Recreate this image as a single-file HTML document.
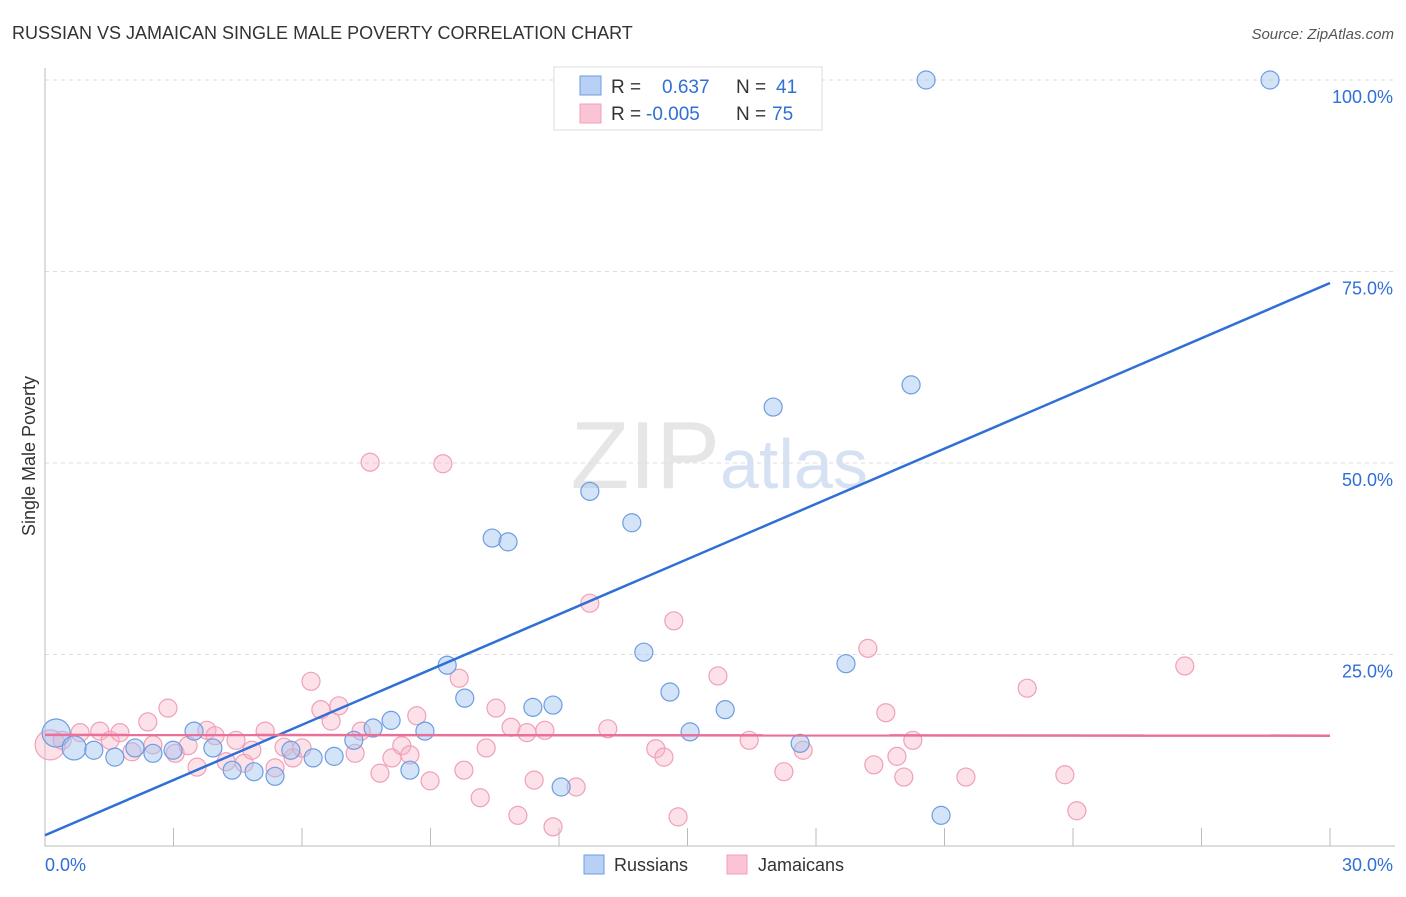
<!DOCTYPE html>
<html><head><meta charset="utf-8"><style>
body{margin:0;background:#fff;font-family:"Liberation Sans",sans-serif}
svg text{font-family:"Liberation Sans",sans-serif}
</style></head><body>
<svg width="1406" height="892" xmlns="http://www.w3.org/2000/svg">
<text x="12" y="39" font-size="18" fill="#333">RUSSIAN VS JAMAICAN SINGLE MALE POVERTY CORRELATION CHART</text>
<text x="1394" y="39" font-size="15" fill="#555" font-style="italic" text-anchor="end">Source: ZipAtlas.com</text>
<text x="35" y="456" font-size="18" fill="#333" text-anchor="middle" transform="rotate(-90 35 456)">Single Male Poverty</text>
<text x="720" y="488" font-size="96" fill="#e6e6e6" text-anchor="end" font-family="Liberation Serif">ZIP</text>
<text x="720" y="488" font-size="70" fill="#d6e2f4">atlas</text>
<g id="grid"></g><g id="pts"></g><g id="lines"></g>
<g>
<rect x="554" y="67" width="268" height="63" fill="#fff" stroke="#ddd"/>
<rect x="580" y="76" width="21" height="19" fill="#b8d0f4" stroke="#6d9de0"/>
<rect x="580" y="104" width="21" height="19" fill="#fac4d4" stroke="#f0a0b8"/>
<text x="611" y="93" font-size="19" fill="#333">R =</text><text x="662" y="93" font-size="19" fill="#2f6fd6">0.637</text>
<text x="736" y="93" font-size="19" fill="#333">N =</text><text x="776" y="93" font-size="19" fill="#2f6fd6">41</text>
<text x="611" y="120" font-size="19" fill="#333">R =</text><text x="646" y="120" font-size="19" fill="#2f6fd6">-0.005</text>
<text x="736" y="120" font-size="19" fill="#333">N =</text><text x="772" y="120" font-size="19" fill="#2f6fd6">75</text>
</g>
<g>
<rect x="584" y="855" width="20" height="19" fill="#b8d0f4" stroke="#6d9de0"/>
<text x="614" y="871" font-size="18" fill="#333">Russians</text>
<rect x="727" y="855" width="20" height="19" fill="#fac4d4" stroke="#f0a0b8"/>
<text x="758" y="871" font-size="18" fill="#333">Jamaicans</text>
</g>
</svg>
<script>
const xTicks=[0,30];
const yTicks=[25,50,75,100];
const rusX=[0.26,0.68,1.14,1.63,2.10,2.52,2.99,3.48,3.92,4.37,4.88,5.37,5.74,6.26,6.75,7.21,7.66,8.08,8.52,8.87,9.39,9.80,10.44,10.81,11.39,11.86,12.05,12.72,13.70,13.98,14.59,15.06,15.88,17.00,17.63,18.70,20.22,20.92,20.57,15.6,28.6];
const rusY=[14.75,12.8,12.5,11.6,12.8,12.1,12.5,15.0,12.8,9.9,9.7,9.1,12.5,11.5,11.7,13.8,15.4,16.4,9.9,15.0,23.6,19.3,40.2,39.7,18.1,18.4,7.7,46.3,42.2,25.3,20.1,14.9,17.8,57.3,13.4,23.8,60.2,4.0,100,100,100];
const jamX=[0.12,0.40,0.82,1.28,1.52,1.75,2.03,2.40,2.52,2.87,3.04,3.34,3.55,3.78,3.97,4.23,4.46,4.65,4.83,5.14,5.37,5.58,5.79,6.00,6.21,6.44,6.68,6.86,7.24,7.38,7.59,7.82,8.10,8.33,8.52,8.68,8.99,9.29,9.67,9.78,10.16,10.30,10.53,10.88,11.04,11.25,11.42,11.67,11.86,12.40,12.72,13.14,14.26,14.45,14.68,14.78,15.71,16.44,17.25,17.70,19.21,19.35,19.63,19.89,20.05,20.26,21.50,22.93,23.81,24.09,26.61];
const jamY=[13.2,13.8,14.8,15.0,13.8,14.8,12.3,16.2,13.2,18.0,12.1,13.1,10.3,15.1,14.4,11.0,13.8,10.8,12.5,15.0,10.2,12.9,11.5,12.8,21.5,17.8,16.3,18.3,12.1,15.0,50.1,9.5,11.5,13.1,11.9,17.0,8.5,49.9,21.9,9.9,6.3,12.8,18.0,15.5,4.0,14.8,8.6,15.1,2.5,7.7,31.7,15.3,12.7,11.6,29.4,3.8,22.2,13.8,9.7,12.5,25.8,10.6,17.4,11.7,9.0,13.8,9.0,20.6,9.3,4.6,23.5];
const rusLine=[1.4,73.5];
const jamLine=[14.5,14.4];
const NS="http://www.w3.org/2000/svg";
const sx=v=>45+v/30*1285, sy=v=>846-v*7.66;
function mk(t,a,p){const e=document.createElementNS(NS,t);for(const k in a)e.setAttribute(k,a[k]);p.appendChild(e);return e;}
const grid=document.getElementById('grid');
yTicks.forEach(t=>{
 const l=mk('line',{x1:45,x2:1395,y1:sy(t),y2:sy(t),stroke:'#ddd','stroke-dasharray':'4,4'},grid);
 
 
 const tx=mk('text',{x:1393,y:sy(t)+23,'font-size':18,fill:'#2f6fd6','text-anchor':'end'},grid);tx.textContent=t.toFixed(1)+'%';
 
 
});
const ax=mk('path',{d:'M45 68V846H1395',fill:'none',stroke:'#bbb'},grid);


for(let i=1;i<=10;i++){const tk=mk('line',{x1:sx(i*3),x2:sx(i*3),y1:828,y2:846,stroke:'#bbb'},grid);
 
 }
xTicks.forEach((t,i)=>{const tx=mk('text',{x:i?1393:45,y:871,'font-size':18,fill:'#2f6fd6','text-anchor':i?'end':'start'},grid);tx.textContent=t.toFixed(1)+'%';
 
 });
const pts=document.getElementById('pts');
jamX.forEach((x,i)=>{const c=mk('circle',{cx:sx(x),cy:sy(jamY[i]),r:i==0?15:9,fill:'rgba(248,180,200,0.4)',stroke:'#f0a0b8','stroke-width':1.2},pts);
 
 });
rusX.forEach((x,i)=>{const c=mk('circle',{cx:sx(x),cy:sy(rusY[i]),r:i==0?14:(i==1?12:9),fill:'rgba(160,196,240,0.45)',stroke:'#6d9de0','stroke-width':1.2},pts);
 
 });
const lines=document.getElementById('lines');
const bl=mk('line',{x1:sx(0),y1:sy(rusLine[0]),x2:sx(30),y2:sy(rusLine[1]),stroke:'#2f6fd6','stroke-width':2.5},lines);


const pl=mk('line',{x1:sx(0),y1:sy(jamLine[0]),x2:sx(30),y2:sy(jamLine[1]),stroke:'#e8709a','stroke-width':2.5},lines);


</script>
</body></html>
